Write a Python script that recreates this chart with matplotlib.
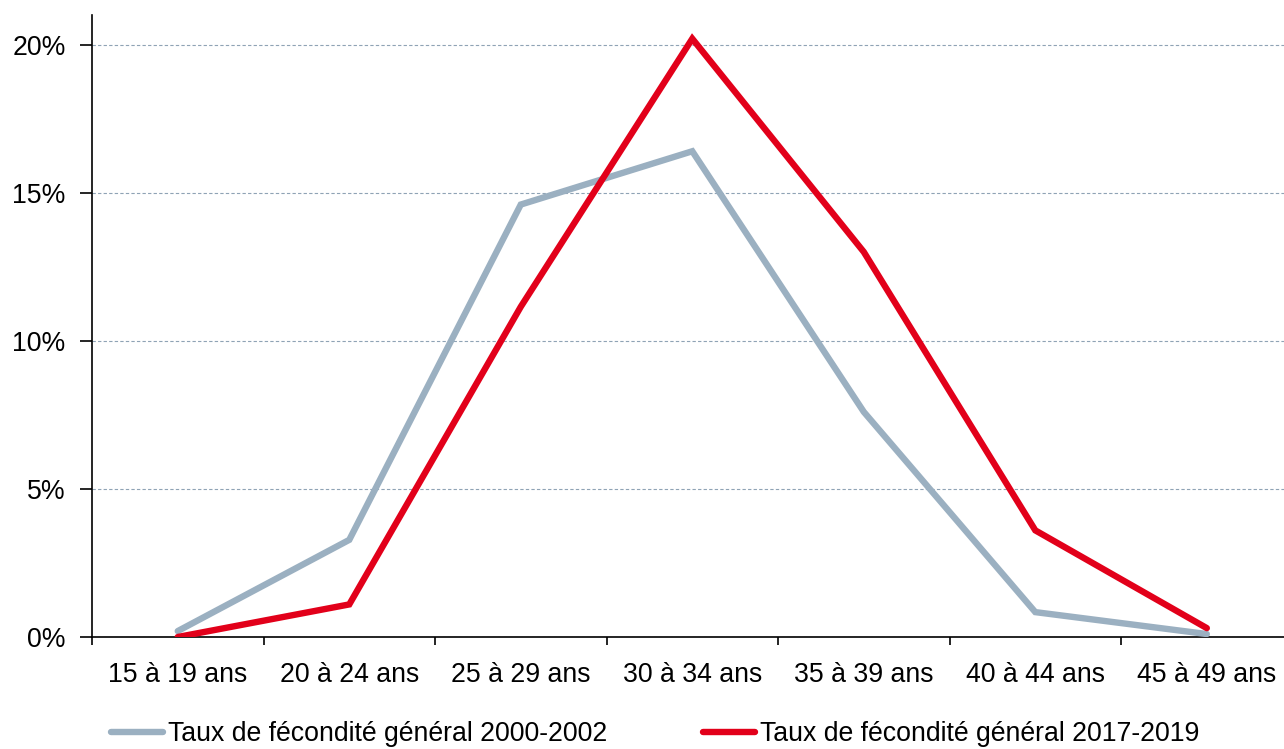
import matplotlib
matplotlib.use("Agg")
import matplotlib.pyplot as plt
from matplotlib.ticker import FuncFormatter

categories = ["15 à 19 ans", "20 à 24 ans", "25 à 29 ans", "30 à 34 ans",
              "35 à 39 ans", "40 à 44 ans", "45 à 49 ans"]
taux_2000_2002 = [0.2, 3.28, 14.6, 16.4, 7.6, 0.84, 0.1]
taux_2017_2019 = [0.0, 1.1, 11.15, 20.2, 13.0, 3.6, 0.3]
labels = ["Taux de fécondité général 2000-2002", "Taux de fécondité général 2017-2019"]
yticks = [0, 5, 10, 15, 20]

plt.rcParams['font.family'] = ['Liberation Sans', 'DejaVu Sans']

FS = 19.2
W, H = 1284, 749
fig = plt.figure(figsize=(W/100, H/100), dpi=100)
ax = fig.add_axes([92/W, 1-637/H, (W-92)/W, (637-15)/H])

x = list(range(len(categories)))
ax.plot(x, taux_2000_2002, color="#9BB0C1", lw=4.6, solid_capstyle="round", solid_joinstyle="miter", label=labels[0], zorder=3)
ax.plot(x, taux_2017_2019, color="#E2001A", lw=4.6, solid_capstyle="round", solid_joinstyle="miter", label=labels[1], zorder=4)

ax.set_xlim(-0.5, 6.45)
ax.set_ylim(0, 21.0)
ax.set_yticks(yticks)
ax.yaxis.set_major_formatter(FuncFormatter(lambda v, p: f"{int(v)}%"))
ax.set_xticks([i - 0.5 for i in range(7)])
ax.set_xticklabels([])
ax.set_xticks(x, minor=True)
ax.set_xticklabels(categories, minor=True)
ax.tick_params(axis="x", which="minor", length=0, pad=18, labelsize=FS)
ax.tick_params(axis="x", which="major", length=6, width=1.2, direction="out")
ax.tick_params(axis="y", length=9, width=1.2, direction="out", labelsize=FS, pad=10)

for s in ["top", "right"]:
    ax.spines[s].set_visible(False)
for s in ["left", "bottom"]:
    ax.spines[s].set_linewidth(1.2)
    ax.spines[s].set_color("black")

ax.yaxis.grid(True, linestyle=(0, (3, 2)), color="#8FA3B5", lw=0.8)
ax.set_axisbelow(True)

leg = fig.legend(loc="upper left", bbox_to_anchor=(111/W, 1-721/H), ncol=2,
                 frameon=False, fontsize=FS, handlelength=1.95, handletextpad=0.18,
                 columnspacing=3.6, borderaxespad=0, borderpad=0)

fig.savefig("out.png", dpi=100)
